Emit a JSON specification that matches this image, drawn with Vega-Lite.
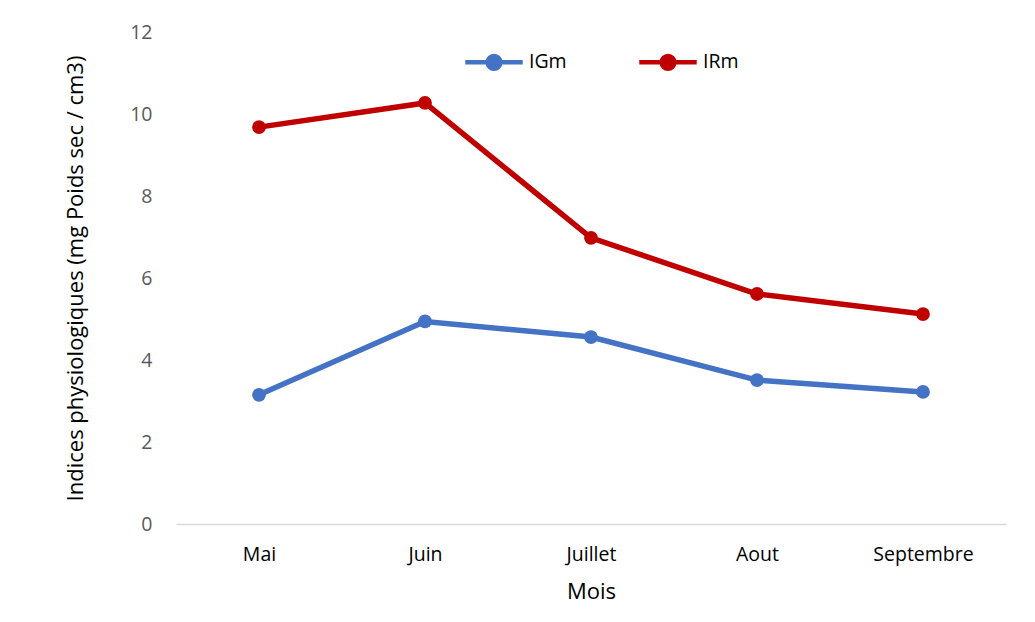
{
  "$schema": "https://vega.github.io/schema/vega-lite/v6.json",
  "width": 830,
  "height": 492,
  "autosize": {"type": "none"},
  "padding": {"left": 176, "top": 32, "right": 29, "bottom": 98},
  "background": "white",
  "config": {
    "view": {"stroke": null},
    "font": "Open Sans"
  },
  "data": {
    "values": [
      {"mois": "Mai", "serie": "IGm", "valeur": 3.15},
      {"mois": "Juin", "serie": "IGm", "valeur": 4.94},
      {"mois": "Juillet", "serie": "IGm", "valeur": 4.56},
      {"mois": "Aout", "serie": "IGm", "valeur": 3.51},
      {"mois": "Septembre", "serie": "IGm", "valeur": 3.22},
      {"mois": "Mai", "serie": "IRm", "valeur": 9.68},
      {"mois": "Juin", "serie": "IRm", "valeur": 10.27},
      {"mois": "Juillet", "serie": "IRm", "valeur": 6.98},
      {"mois": "Aout", "serie": "IRm", "valeur": 5.61},
      {"mois": "Septembre", "serie": "IRm", "valeur": 5.12}
    ]
  },
  "mark": {"type": "line", "strokeWidth": 5.5, "point": {"size": 190, "filled": true, "opacity": 1}},
  "encoding": {
    "x": {
      "field": "mois",
      "type": "nominal",
      "sort": ["Mai", "Juin", "Juillet", "Aout", "Septembre"],
      "scale": {"type": "point", "padding": 0.5},
      "axis": {
        "title": "Mois",
        "titleFontSize": 22,
        "titleFontWeight": "normal",
        "titleColor": "#000000",
        "titlePadding": 18,
        "labelAngle": 0,
        "labelFontSize": 19.5,
        "labelColor": "#000000",
        "labelPadding": 21,
        "ticks": false,
        "domainColor": "#D9D9D9",
        "domainWidth": 1.5,
        "grid": false
      }
    },
    "y": {
      "field": "valeur",
      "type": "quantitative",
      "scale": {"domain": [0, 12], "nice": false},
      "axis": {
        "title": "Indices physiologiques (mg Poids sec / cm3)",
        "titleFontSize": 22,
        "titleFontWeight": "normal",
        "titleColor": "#000000",
        "titlePadding": 42,
        "values": [0, 2, 4, 6, 8, 10, 12],
        "labelFontSize": 19.5,
        "labelColor": "#595959",
        "labelPadding": 24,
        "ticks": false,
        "domain": false,
        "grid": false
      }
    },
    "color": {
      "field": "serie",
      "type": "nominal",
      "scale": {"domain": ["IGm", "IRm"], "range": ["#4472C4", "#C00000"]},
      "legend": {
        "title": null,
        "orient": "none",
        "direction": "horizontal",
        "legendX": 287,
        "legendY": -1,
        "symbolType": "M-1,0L1,0M0.22,0A0.22,0.22,0,1,1,-0.22,0A0.22,0.22,0,1,1,0.22,0Z",
        "symbolSize": 3300,
        "symbolStrokeWidth": 4.5,
        "labelFontSize": 19.5,
        "labelColor": "#000000",
        "labelOffset": 4,
        "columnPadding": 63,
        "encode": {
          "symbols": {"update": {"fill": {"scale": "color", "field": "value"}}}
        }
      }
    }
  }
}
